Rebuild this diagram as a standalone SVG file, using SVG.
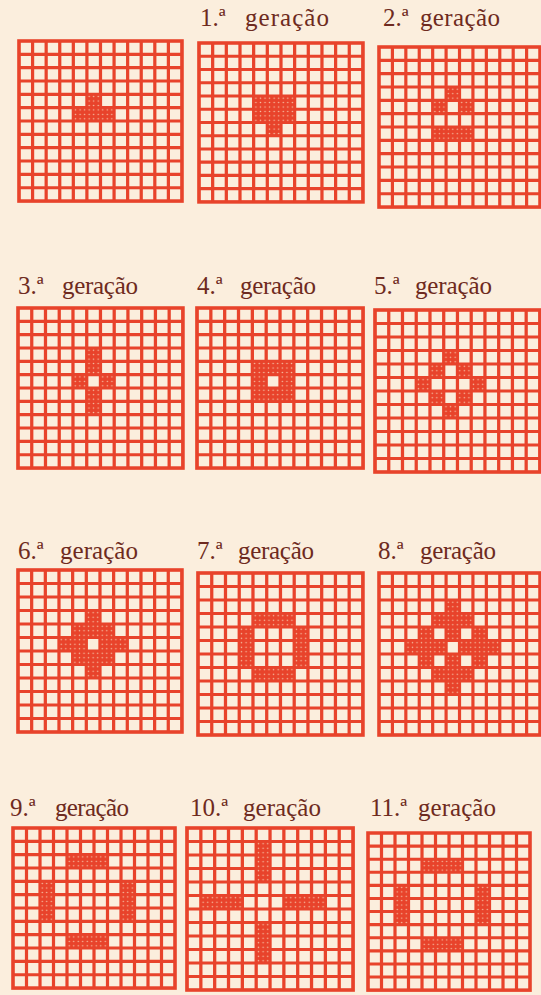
<svg xmlns="http://www.w3.org/2000/svg" xmlns:xlink="http://www.w3.org/1999/xlink" width="541" height="995" viewBox="0 0 541 995">
<style>
.bg{fill:#fbeedd}
.frame{fill:none;stroke:#e8432b;stroke-width:3.6}
.lines{fill:none;stroke:#e8432b;stroke-width:3.2}
.on{fill:url(#dots)}
.lbl{font-family:"Liberation Serif","Times New Roman",serif;font-size:25px;fill:#6e2a20}
</style>
<defs>
<pattern id="dots" width="4.5" height="4.5" patternUnits="userSpaceOnUse">
<rect width="4.5" height="4.5" fill="#e8432b"/>
<circle cx="2.25" cy="2.25" r="0.75" fill="#f6c9ad"/>
</pattern>
<g id="grid">
<rect class="frame" x="0" y="0" width="162" height="162"/>
<path class="lines" d="M13.5 0V162M27 0V162M40.5 0V162M54 0V162M67.5 0V162M81 0V162M94.5 0V162M108 0V162M121.5 0V162M135 0V162M148.5 0V162M0 13.5H162M0 27H162M0 40.5H162M0 54H162M0 67.5H162M0 81H162M0 94.5H162M0 108H162M0 121.5H162M0 135H162M0 148.5H162"/>
</g>
<g id="c"><rect class="on" width="13.5" height="13.5"/></g>
</defs>
<rect class="bg" width="541" height="995"/>

<g id="labels">
<text class="lbl" x="200" y="26">1.ª</text><text class="lbl" x="245" y="26" textLength="84" lengthAdjust="spacing">geração</text>
<text class="lbl" x="383" y="26">2.ª</text><text class="lbl" x="420" y="26" textLength="80" lengthAdjust="spacing">geração</text>
<text class="lbl" x="18" y="294">3.ª</text><text class="lbl" x="62" y="294" textLength="76" lengthAdjust="spacing">geração</text>
<text class="lbl" x="197" y="294">4.ª</text><text class="lbl" x="240" y="294" textLength="76" lengthAdjust="spacing">geração</text>
<text class="lbl" x="374" y="294">5.ª</text><text class="lbl" x="415" y="294" textLength="77" lengthAdjust="spacing">geração</text>
<text class="lbl" x="18" y="559">6.ª</text><text class="lbl" x="60" y="559" textLength="78" lengthAdjust="spacing">geração</text>
<text class="lbl" x="197" y="559">7.ª</text><text class="lbl" x="238" y="559" textLength="76" lengthAdjust="spacing">geração</text>
<text class="lbl" x="378" y="559">8.ª</text><text class="lbl" x="420" y="559" textLength="76" lengthAdjust="spacing">geração</text>
<text class="lbl" x="10" y="816">9.ª</text><text class="lbl" x="55" y="816" textLength="74" lengthAdjust="spacing">geração</text>
<text class="lbl" x="190" y="816">10.ª</text><text class="lbl" x="243" y="816" textLength="78" lengthAdjust="spacing">geração</text>
<text class="lbl" x="370" y="816">11.ª</text><text class="lbl" x="418" y="816" textLength="78" lengthAdjust="spacing">geração</text>
</g>

<g id="gen0" transform="translate(19,41) scale(1.006,0.988)">
<use xlink:href="#grid"/>
<use xlink:href="#c" x="67.5" y="54"/>
<use xlink:href="#c" x="54" y="67.5"/><use xlink:href="#c" x="67.5" y="67.5"/><use xlink:href="#c" x="81" y="67.5"/>
</g>

<g id="gen1" transform="translate(199,43) scale(1.012,0.981)">
<use xlink:href="#grid"/>
<use xlink:href="#c" x="54" y="54"/><use xlink:href="#c" x="67.5" y="54"/><use xlink:href="#c" x="81" y="54"/>
<use xlink:href="#c" x="54" y="67.5"/><use xlink:href="#c" x="67.5" y="67.5"/><use xlink:href="#c" x="81" y="67.5"/>
<use xlink:href="#c" x="67.5" y="81"/>
</g>

<g id="gen2" transform="translate(379,47) scale(0.994,0.988)">
<use xlink:href="#grid"/>
<use xlink:href="#c" x="67.5" y="40.5"/>
<use xlink:href="#c" x="54" y="54"/><use xlink:href="#c" x="81" y="54"/>
<use xlink:href="#c" x="54" y="81"/><use xlink:href="#c" x="67.5" y="81"/><use xlink:href="#c" x="81" y="81"/>
</g>

<g id="gen3" transform="translate(18,308) scale(1.018,0.988)">
<use xlink:href="#grid"/>
<use xlink:href="#c" x="67.5" y="40.5"/>
<use xlink:href="#c" x="67.5" y="54"/>
<use xlink:href="#c" x="54" y="67.5"/><use xlink:href="#c" x="81" y="67.5"/>
<use xlink:href="#c" x="67.5" y="81"/>
<use xlink:href="#c" x="67.5" y="94.5"/>
</g>

<g id="gen4" transform="translate(197,308) scale(1.025,0.988)">
<use xlink:href="#grid"/>
<use xlink:href="#c" x="54" y="54"/><use xlink:href="#c" x="67.5" y="54"/><use xlink:href="#c" x="81" y="54"/>
<use xlink:href="#c" x="54" y="67.5"/><use xlink:href="#c" x="81" y="67.5"/>
<use xlink:href="#c" x="54" y="81"/><use xlink:href="#c" x="67.5" y="81"/><use xlink:href="#c" x="81" y="81"/>
</g>

<g id="gen5" transform="translate(375,310) scale(1.018,1)">
<use xlink:href="#grid"/>
<use xlink:href="#c" x="67.5" y="40.5"/>
<use xlink:href="#c" x="54" y="54"/><use xlink:href="#c" x="81" y="54"/>
<use xlink:href="#c" x="40.5" y="67.5"/><use xlink:href="#c" x="94.5" y="67.5"/>
<use xlink:href="#c" x="54" y="81"/><use xlink:href="#c" x="81" y="81"/>
<use xlink:href="#c" x="67.5" y="94.5"/>
</g>

<g id="gen6" transform="translate(18,570) scale(1.012,1)">
<use xlink:href="#grid"/>
<use xlink:href="#c" x="67.5" y="40.5"/>
<use xlink:href="#c" x="54" y="54"/><use xlink:href="#c" x="67.5" y="54"/><use xlink:href="#c" x="81" y="54"/>
<use xlink:href="#c" x="40.5" y="67.5"/><use xlink:href="#c" x="54" y="67.5"/><use xlink:href="#c" x="81" y="67.5"/><use xlink:href="#c" x="94.5" y="67.5"/>
<use xlink:href="#c" x="54" y="81"/><use xlink:href="#c" x="67.5" y="81"/><use xlink:href="#c" x="81" y="81"/>
<use xlink:href="#c" x="67.5" y="94.5"/>
</g>

<g id="gen7" transform="translate(198,573) scale(1.018,1)">
<use xlink:href="#grid"/>
<use xlink:href="#c" x="54" y="40.5"/><use xlink:href="#c" x="67.5" y="40.5"/><use xlink:href="#c" x="81" y="40.5"/>
<use xlink:href="#c" x="40.5" y="54"/><use xlink:href="#c" x="94.5" y="54"/>
<use xlink:href="#c" x="40.5" y="67.5"/><use xlink:href="#c" x="94.5" y="67.5"/>
<use xlink:href="#c" x="40.5" y="81"/><use xlink:href="#c" x="94.5" y="81"/>
<use xlink:href="#c" x="54" y="94.5"/><use xlink:href="#c" x="67.5" y="94.5"/><use xlink:href="#c" x="81" y="94.5"/>
</g>

<g id="gen8" transform="translate(379,573) scale(0.994,1)">
<use xlink:href="#grid"/>
<use xlink:href="#c" x="67.5" y="27"/>
<use xlink:href="#c" x="54" y="40.5"/><use xlink:href="#c" x="67.5" y="40.5"/><use xlink:href="#c" x="81" y="40.5"/>
<use xlink:href="#c" x="40.5" y="54"/><use xlink:href="#c" x="67.5" y="54"/><use xlink:href="#c" x="94.5" y="54"/>
<use xlink:href="#c" x="27" y="67.5"/><use xlink:href="#c" x="40.5" y="67.5"/><use xlink:href="#c" x="54" y="67.5"/><use xlink:href="#c" x="81" y="67.5"/><use xlink:href="#c" x="94.5" y="67.5"/><use xlink:href="#c" x="108" y="67.5"/>
<use xlink:href="#c" x="40.5" y="81"/><use xlink:href="#c" x="67.5" y="81"/><use xlink:href="#c" x="94.5" y="81"/>
<use xlink:href="#c" x="54" y="94.5"/><use xlink:href="#c" x="67.5" y="94.5"/><use xlink:href="#c" x="81" y="94.5"/>
<use xlink:href="#c" x="67.5" y="108"/>
</g>

<g id="gen9" transform="translate(13,828) scale(1,0.988)">
<use xlink:href="#grid"/>
<use xlink:href="#c" x="54" y="27"/><use xlink:href="#c" x="67.5" y="27"/><use xlink:href="#c" x="81" y="27"/>
<use xlink:href="#c" x="27" y="54"/><use xlink:href="#c" x="27" y="67.5"/><use xlink:href="#c" x="27" y="81"/>
<use xlink:href="#c" x="108" y="54"/><use xlink:href="#c" x="108" y="67.5"/><use xlink:href="#c" x="108" y="81"/>
<use xlink:href="#c" x="54" y="108"/><use xlink:href="#c" x="67.5" y="108"/><use xlink:href="#c" x="81" y="108"/>
</g>

<g id="gen10" transform="translate(187,828) scale(1.025,1)">
<use xlink:href="#grid"/>
<use xlink:href="#c" x="67.5" y="13.5"/><use xlink:href="#c" x="67.5" y="27"/><use xlink:href="#c" x="67.5" y="40.5"/>
<use xlink:href="#c" x="13.5" y="67.5"/><use xlink:href="#c" x="27" y="67.5"/><use xlink:href="#c" x="40.5" y="67.5"/>
<use xlink:href="#c" x="94.5" y="67.5"/><use xlink:href="#c" x="108" y="67.5"/><use xlink:href="#c" x="121.5" y="67.5"/>
<use xlink:href="#c" x="67.5" y="94.5"/><use xlink:href="#c" x="67.5" y="108"/><use xlink:href="#c" x="67.5" y="121.5"/>
</g>

<g id="gen11" transform="translate(368,833) scale(1,0.97)">
<use xlink:href="#grid"/>
<use xlink:href="#c" x="54" y="27"/><use xlink:href="#c" x="67.5" y="27"/><use xlink:href="#c" x="81" y="27"/>
<use xlink:href="#c" x="27" y="54"/><use xlink:href="#c" x="27" y="67.5"/><use xlink:href="#c" x="27" y="81"/>
<use xlink:href="#c" x="108" y="54"/><use xlink:href="#c" x="108" y="67.5"/><use xlink:href="#c" x="108" y="81"/>
<use xlink:href="#c" x="54" y="108"/><use xlink:href="#c" x="67.5" y="108"/><use xlink:href="#c" x="81" y="108"/>
</g>
</svg>
